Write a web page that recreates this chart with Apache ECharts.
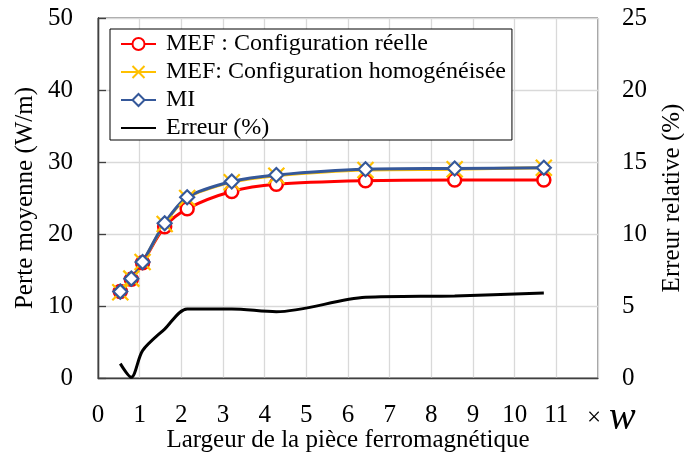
<!DOCTYPE html>
<html>
<head>
<meta charset="utf-8">
<script src="https://cdn.jsdelivr.net/npm/echarts@6/dist/echarts.min.js"></script>
<style>html,body{margin:0;padding:0;background:#fff;}#c{width:684px;height:457px;}</style>
</head>
<body>
<div id="c"></div>
<script>
// ---- data ----
var xValues   = [0.535, 0.8, 1.07, 1.6, 2.14, 3.21, 4.28, 6.42, 8.56, 10.7];
var mefReelle = [12.0, 13.7, 16.0, 21.0, 23.5, 25.9, 26.9, 27.4, 27.5, 27.5];
var mefHomog  = [11.9, 13.8, 16.1, 21.4, 25.0, 27.2, 28.1, 28.9, 29.0, 29.2];
var mi        = [12.0, 13.8, 16.1, 21.5, 25.1, 27.3, 28.2, 29.0, 29.1, 29.2];
var erreur    = [1.0, 0.05, 1.9, 3.4, 4.8, 4.8, 4.6, 5.6, 5.7, 5.9];
var seriesNames = ['MEF : Configuration réelle', 'MEF: Configuration homogénéisée', 'MI', 'Erreur (%)'];
var xTickLabels = ['0','1','2','3','4','5','6','7','8','9','10','11'];
var leftTicks = [0, 10, 20, 30, 40, 50];
var rightTicks = [0, 5, 10, 15, 20, 25];

function pairs(xs, ys) { return xs.map(function (x, i) { return [x, ys[i]]; }); }

var FONT = 'Liberation Serif';
var TICK = 25, NAME = 25, LEG = 24;
var chart = echarts.init(document.getElementById('c'), null, {renderer: 'canvas'});
var option = {
  backgroundColor: '#fff',
  animation: false,
  textStyle: {fontFamily: FONT, color: '#000'},
  grid: {left: 98, right: 86, top: 18, bottom: 79, show: true, borderColor: '#404040', borderWidth: 1,
         backgroundColor: 'transparent', containLabel: false, outerBoundsMode: 'none'},
  legend: {
    orient: 'vertical', left: 110, top: 29,
    backgroundColor: '#fff', borderColor: '#000', borderWidth: 1,
    padding: [3, 6, 0, 10], itemGap: 4, itemWidth: 35, itemHeight: 15,
    textStyle: {fontFamily: FONT, fontSize: LEG, lineHeight: 23, color: '#000', padding: [0, 0, 0, 5]},
    data: [
      {name: seriesNames[0]},
      {name: seriesNames[1]},
      {name: seriesNames[2]},
      {name: seriesNames[3], itemStyle: {opacity: 0}}
    ]
  },
  xAxis: [{
    type: 'value', min: 0, max: 12, interval: 1,
    axisLine: {show: true, onZero: false, lineStyle: {color: '#404040', width: 1.3}},
    axisTick: {show: false},
    splitLine: {show: true, lineStyle: {color: '#D9D9D9', width: 1.3}},
    axisLabel: {
      fontFamily: FONT, fontSize: TICK, color: '#000', margin: 25,
      showMaxLabel: true, showMinLabel: true, hideOverlap: false,
      formatter: function (v) { return xTickLabels[v] !== undefined ? xTickLabels[v] : ''; }
    },
    name: 'Largeur de la pièce ferromagnétique', nameLocation: 'middle', nameGap: 50, nameMoveOverlap: false,
    nameTextStyle: {fontFamily: FONT, fontSize: NAME, color: '#000'}
  }, {
    // carries only the "× w" unit marker at the right end of the x axis
    type: 'value', min: 0, max: 12, position: 'bottom',
    axisLine: {show: false}, axisTick: {show: false}, axisLabel: {show: false}, splitLine: {show: false},
    name: '{m|×}{w|w}', nameLocation: 'end', nameGap: -11, nameMoveOverlap: false,
    nameTextStyle: {
      align: 'left', verticalAlign: 'top', padding: [25, 0, 0, 0],
      rich: {
        m: {fontFamily: FONT, fontSize: TICK, lineHeight: 30, color: '#000', padding: [0, 8, 0, 0]},
        w: {fontFamily: FONT, fontSize: 40, lineHeight: 30, fontStyle: 'italic', color: '#000'}
      }
    }
  }],
  yAxis: [{
    type: 'value', min: 0, max: 50, interval: 10,
    axisLine: {show: true, lineStyle: {color: '#404040', width: 1.3}},
    axisTick: {show: false},
    splitLine: {show: true, lineStyle: {color: '#D9D9D9', width: 1.3}},
    axisLabel: {fontFamily: FONT, fontSize: TICK, color: '#000', margin: 25,
      formatter: function (v) { return leftTicks.indexOf(v) >= 0 ? String(v) : ''; }},
    name: 'Perte moyenne (W/m)', nameLocation: 'middle', nameGap: 60, nameRotate: 90, nameMoveOverlap: false,
    nameTextStyle: {fontFamily: FONT, fontSize: NAME, color: '#000'}
  }, {
    type: 'value', min: 0, max: 25, interval: 5, position: 'right',
    axisLine: {show: true, lineStyle: {color: '#404040', width: 1.3}},
    axisTick: {show: true, inside: false, length: 8, lineStyle: {color: '#404040', width: 1.3}},
    splitLine: {show: false},
    axisLabel: {fontFamily: FONT, fontSize: TICK, color: '#000', margin: 24,
      formatter: function (v) { return rightTicks.indexOf(v) >= 0 ? String(v) : ''; }},
    name: 'Erreur relative (%)', nameLocation: 'middle', nameGap: 62, nameRotate: 90, nameMoveOverlap: false,
    nameTextStyle: {fontFamily: FONT, fontSize: NAME, color: '#000'}
  }],
  series: [{
    name: seriesNames[0], type: 'line', smooth: 0.3,
    data: pairs(xValues, mefReelle),
    symbol: 'circle', symbolSize: 13,
    lineStyle: {color: '#FF0000', width: 3},
    itemStyle: {color: '#fff', borderColor: '#FF0000', borderWidth: 2.5}
  }, {
    name: seriesNames[1], type: 'line', smooth: 0.3,
    data: pairs(xValues, mefHomog),
    symbol: 'path://M0,0L10,10M10,0L0,10', symbolSize: 16,
    lineStyle: {color: '#FFC000', width: 3},
    itemStyle: {color: '#FFC000', borderColor: '#FFC000', borderWidth: 2.2}
  }, {
    name: seriesNames[2], type: 'line', smooth: 0.3,
    data: pairs(xValues, mi),
    symbol: 'diamond', symbolSize: 14,
    lineStyle: {color: '#35589A', width: 3},
    itemStyle: {color: '#fff', borderColor: '#35589A', borderWidth: 2.2}
  }, {
    name: seriesNames[3], type: 'line', smooth: 0.3, yAxisIndex: 1,
    data: pairs(xValues, erreur),
    symbol: 'none',
    lineStyle: {color: '#000', width: 3},
    itemStyle: {color: '#000'}
  }]
};
chart.setOption(option);
</script>
</body>
</html>
